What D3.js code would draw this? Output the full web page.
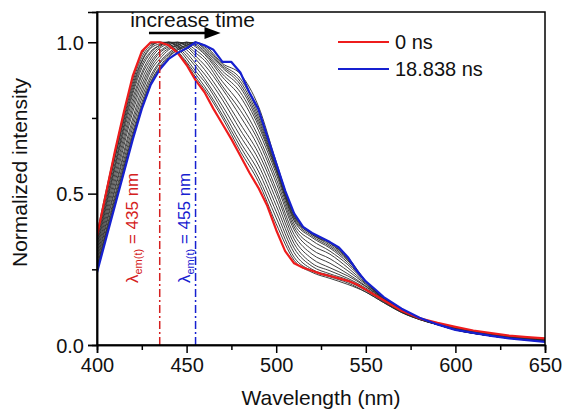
<!DOCTYPE html>
<html>
<head>
<meta charset="utf-8">
<script src="https://cdn.jsdelivr.net/npm/d3@7"></script>
<style>
  html, body { margin: 0; padding: 0; background: #fff; }
  svg { display: block; font-family: "Liberation Sans", Arial, sans-serif; }
</style>
</head>
<body>
<svg id="chart" width="564" height="411"></svg>
<script>
// ---------------- data ----------------
const wlMain = [400,405,410,415,420,425,430,435,440,445,450,455,460,465,470,475,480,485,490,495,500,505,510,515,520,525,530,535,540,545,550,555,560,570,580,590,600,610,620,630,640,650];
const red0ns = [.36,.50,.64,.77,.89,.97,1.00,1.00,.99,.965,.925,.875,.835,.78,.73,.68,.625,.57,.52,.46,.38,.31,.27,.255,.245,.235,.228,.22,.212,.20,.183,.165,.148,.113,.088,.073,.06,.048,.039,.031,.026,.022];
const blue18ns = [.24,.35,.46,.57,.68,.78,.86,.91,.945,.965,.98,1.00,.99,.975,.935,.935,.90,.835,.78,.69,.60,.51,.435,.39,.37,.355,.34,.322,.29,.245,.21,.185,.158,.12,.09,.068,.05,.04,.03,.022,.016,.01];

const wlInter = [400,410,420,425,430,435,440,445,450,455,460,470,480,490,500,510,520,530,540,550,560,570,580,600,620,650];
const trace01 = [.37,.64,.88,.96,.995,1.00,.99,.965,.93,.885,.845,.75,.64,.54,.40,.28,.24,.22,.20,.175,.14,.108,.085,.058,.037,.022];
const trace02 = [.36,.63,.87,.95,.99,1.00,.995,.97,.935,.895,.855,.76,.655,.555,.42,.29,.245,.225,.205,.175,.14,.107,.084,.056,.036,.021];
const trace03 = [.35,.62,.86,.94,.985,1.00,1.00,.98,.945,.905,.87,.775,.67,.575,.44,.305,.25,.23,.21,.18,.143,.108,.084,.055,.035,.02];
const trace04 = [.35,.615,.85,.935,.98,.995,1.00,.985,.955,.92,.88,.79,.69,.595,.46,.32,.26,.235,.215,.183,.145,.109,.085,.055,.034,.019];
const trace05 = [.34,.60,.84,.925,.97,.99,1.00,.99,.965,.93,.895,.81,.71,.615,.48,.335,.27,.245,.22,.188,.148,.111,.086,.054,.033,.018];
const trace06 = [.33,.59,.83,.915,.965,.99,1.00,.995,.975,.945,.91,.825,.73,.635,.50,.35,.285,.255,.228,.193,.15,.112,.086,.054,.032,.017];
const trace07 = [.32,.58,.815,.90,.955,.985,1.00,1.00,.985,.955,.925,.845,.755,.655,.515,.365,.30,.27,.235,.195,.152,.113,.087,.053,.031,.016];
const trace08 = [.31,.565,.80,.89,.945,.98,.995,1.00,.99,.965,.94,.855,.775,.675,.535,.38,.315,.285,.245,.20,.153,.114,.087,.053,.031,.015];
const trace09 = [.30,.55,.785,.875,.935,.97,.99,1.00,.995,.975,.95,.87,.795,.69,.55,.39,.33,.30,.255,.203,.154,.115,.088,.052,.03,.014];
const trace10 = [.29,.535,.77,.86,.925,.965,.985,.995,1.00,.985,.96,.885,.82,.71,.565,.40,.345,.31,.265,.207,.155,.116,.088,.052,.03,.014];
const trace11 = [.28,.52,.75,.845,.915,.955,.98,.99,1.00,.99,.965,.895,.835,.725,.575,.41,.355,.32,.272,.208,.155,.116,.089,.051,.03,.013];
const trace12 = [.27,.51,.735,.83,.905,.945,.975,.99,1.00,.995,.97,.905,.85,.735,.58,.415,.36,.325,.278,.21,.156,.117,.089,.051,.03,.013];
const trace13 = [.26,.495,.72,.815,.89,.935,.965,.985,.995,1.00,.975,.915,.86,.745,.585,.42,.365,.33,.282,.21,.156,.117,.09,.051,.03,.012];
const trace14 = [.255,.485,.705,.80,.88,.93,.96,.98,.99,1.00,.98,.92,.87,.755,.59,.425,.365,.335,.285,.21,.156,.118,.09,.05,.03,.012];
const trace15 = [.25,.475,.695,.79,.87,.92,.955,.975,.99,1.00,.985,.925,.88,.765,.595,.428,.368,.337,.287,.21,.156,.118,.09,.05,.03,.011];
const trace16 = [.245,.47,.69,.785,.865,.915,.95,.975,.985,1.00,.99,.93,.895,.79,.605,.432,.37,.34,.29,.211,.156,.118,.09,.05,.03,.011];
const interTraces = [trace01,trace02,trace03,trace04,trace05,trace06,trace07,trace08,trace09,trace10,trace11,trace12,trace13,trace14,trace15,trace16];

const xMajorTicks = [400,450,500,550,600,650];
const xMinorTicks = [425,475,525,575,625];
const yMajorTicks = [0.0,0.5,1.0];
const yMinorTicks = [0.25,0.75];
const legendLabels = ["0 ns","18.838 ns"];
const peakWavelengths = [435,455];
const peakLabelValues = ["435","455"];

// ---------------- layout ----------------
const svg = d3.select("#chart");
const L = 97, R = 545, T = 12, B = 345;
const x = d3.scaleLinear().domain([400,650]).range([L,R]);
const y = d3.scaleLinear().domain([0,1.1]).range([B,T]);
const RED = "#ee1c1c", BLUE = "#1620d0";

svg.append("defs").append("clipPath").attr("id","clip")
  .append("rect").attr("x",L).attr("y",T).attr("width",R-L).attr("height",B-T);

const plot = svg.append("g").attr("clip-path","url(#clip)");

// dash-dot peak markers
const peakColors = ["#d42020", BLUE];
peakWavelengths.forEach((w,i)=>{
  svg.append("line")
    .attr("x1",x(w)).attr("x2",x(w)).attr("y1",y(0)).attr("y2",y(1.0))
    .attr("stroke",peakColors[i]).attr("stroke-width",1.5)
    .attr("stroke-dasharray","8,3,2,3");
});

// black intermediate traces
const lineInter = d3.line().x((d,i)=>x(wlInter[i])).y(d=>y(d)).curve(d3.curveMonotoneX);
plot.selectAll("path.inter").data(interTraces).enter().append("path")
  .attr("class","inter")
  .attr("d",lineInter)
  .attr("fill","none").attr("stroke","#2a2a2a").attr("stroke-width",0.9);

const lineMain = d3.line().x((d,i)=>x(wlMain[i])).y(d=>y(d));
plot.append("path").attr("d",lineMain(red0ns)).attr("fill","none")
  .attr("stroke",RED).attr("stroke-width",2.2).attr("stroke-linejoin","round");
plot.append("path").attr("d",lineMain(blue18ns)).attr("fill","none")
  .attr("stroke",BLUE).attr("stroke-width",2.2).attr("stroke-linejoin","round");

// frame
svg.append("rect").attr("x",L).attr("y",T).attr("width",R-L).attr("height",B-T)
  .attr("fill","none").attr("stroke","#000").attr("stroke-width",1.5);

// axes
const xAxis = d3.axisBottom(x).tickValues(xMajorTicks).tickSize(8).tickPadding(4).tickFormat(d3.format("d"));
const gx = svg.append("g").attr("transform",`translate(0,${B})`).call(xAxis);
const xMinor = d3.axisBottom(x).tickValues(xMinorTicks).tickSize(5).tickFormat("");
const gxm = svg.append("g").attr("transform",`translate(0,${B})`).call(xMinor);
const yAxis = d3.axisLeft(y).tickValues(yMajorTicks).tickSize(9).tickPadding(4).tickFormat(d3.format(".1f"));
const gy = svg.append("g").attr("transform",`translate(${L},0)`).call(yAxis);
const yMinor = d3.axisLeft(y).tickValues(yMinorTicks).tickSize(5).tickFormat("");
const gym = svg.append("g").attr("transform",`translate(${L},0)`).call(yMinor);
[gx,gxm,gy,gym].forEach(g=>{
  g.select(".domain").attr("stroke","#000").attr("stroke-width",1.5);
  g.selectAll(".tick line").attr("stroke","#000").attr("stroke-width",1.5);
  g.selectAll(".tick text").attr("fill","#111").style("font-size","20px")
    .style("font-family",'"Liberation Sans", Arial, sans-serif');
});
gx.selectAll(".tick text").attr("dy","0.75em");
gy.selectAll(".tick text").attr("dy","0.35em");

// axis titles
svg.append("text").attr("x",(L+R)/2).attr("y",405).attr("text-anchor","middle")
  .style("font-size","21px").attr("fill","#111").text("Wavelength (nm)");
svg.append("text").attr("transform",`translate(27,${(T+B)/2 - 6}) rotate(-90)`)
  .attr("text-anchor","middle").style("font-size","21px").attr("fill","#111")
  .text("Normalized intensity");

// increase time annotation
svg.append("text").attr("x",x(418.5)).attr("y",27).style("font-size","21px")
  .attr("fill","#111").text("increase time");
svg.append("line").attr("x1",x(429)).attr("x2",x(461)).attr("y1",33).attr("y2",33)
  .attr("stroke","#000").attr("stroke-width",2.5);
svg.append("path")
  .attr("d",`M${x(460)},27 L${x(469)},33 L${x(460)},39 Z`).attr("fill","#000");

// legend
const legY = [42,69];
legendLabels.forEach((lab,i)=>{
  svg.append("line").attr("x1",338).attr("x2",389).attr("y1",legY[i]).attr("y2",legY[i])
    .attr("stroke",i===0?RED:BLUE).attr("stroke-width",2.2);
  svg.append("text").attr("x",395).attr("y",legY[i]+7).style("font-size","20px")
    .attr("fill","#111").text(lab);
});

// rotated peak labels
const labelX = [138,190];
peakWavelengths.forEach((w,i)=>{
  const t = svg.append("text")
    .attr("transform",`translate(${labelX[i]},283) rotate(-90)`)
    .style("font-size","17px").attr("fill",peakColors[i]);
  t.append("tspan").text("λ");
  t.append("tspan").attr("dy",4).style("font-size","11px").text("em(t)");
  t.append("tspan").attr("dy",-4).text(" = " + peakLabelValues[i] + " nm");
});
</script>
</body>
</html>
